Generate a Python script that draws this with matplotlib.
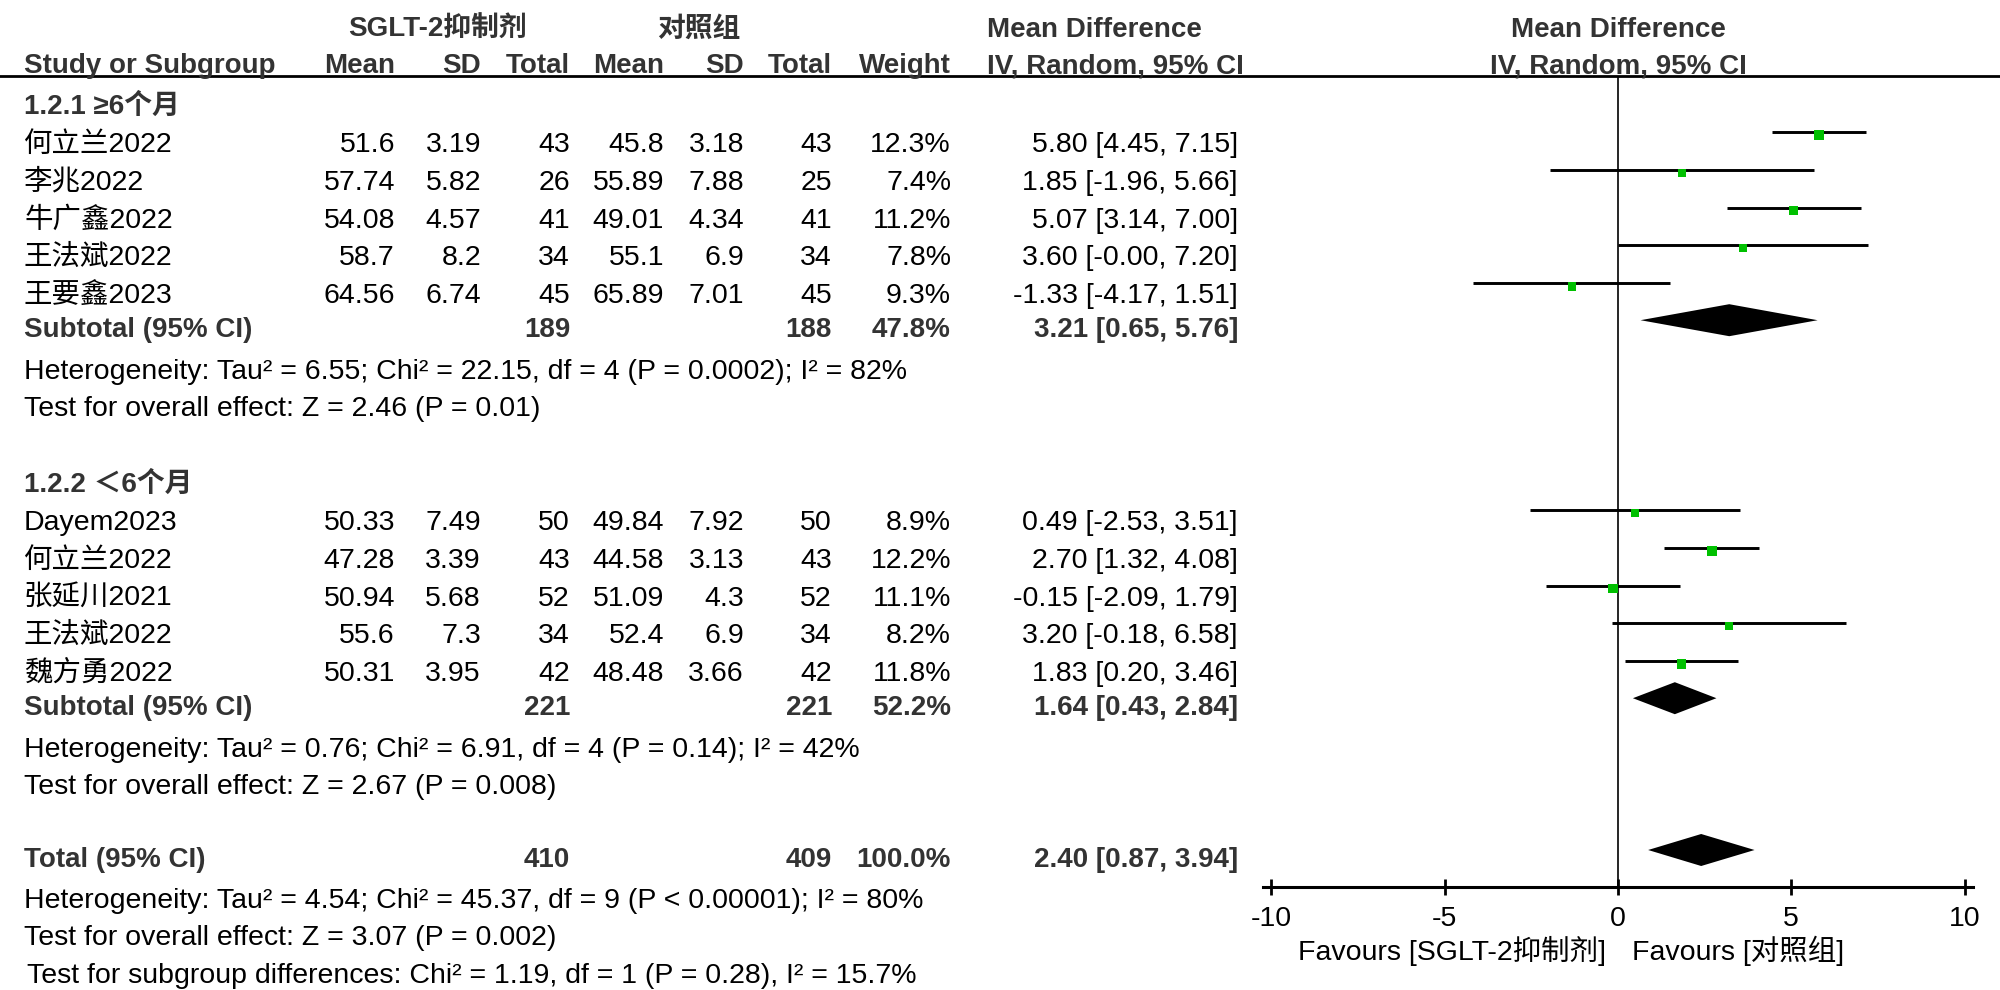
import matplotlib
matplotlib.use('Agg')
import numpy as np
import matplotlib.pyplot as plt

plt.rcParams['font.family'] = ['Liberation Sans', 'Noto Sans CJK SC', 'DejaVu Sans']

# ---- data: subgroup 1.2.1 (>=6 months)
g1_label = '1.2.1 ≥6个月'
g1_studies = ['何立兰2022', '李兆2022', '牛广鑫2022', '王法斌2022', '王要鑫2023']
g1_mean_t = [51.6, 57.74, 54.08, 58.7, 64.56]
g1_sd_t = [3.19, 5.82, 4.57, 8.2, 6.74]
g1_n_t = [43, 26, 41, 34, 45]
g1_mean_c = [45.8, 55.89, 49.01, 55.1, 65.89]
g1_sd_c = [3.18, 7.88, 4.34, 6.9, 7.01]
g1_n_c = [43, 25, 41, 34, 45]
g1_weight = [12.3, 7.4, 11.2, 7.8, 9.3]
g1_md = [5.80, 1.85, 5.07, 3.60, -1.33]
g1_lo = [4.45, -1.96, 3.14, -0.0, -4.17]
g1_hi = [7.15, 5.66, 7.00, 7.20, 1.51]
g1_sub = (189, 188, 47.8, 3.21, 0.65, 5.76)
g1_het = 'Heterogeneity: Tau² = 6.55; Chi² = 22.15, df = 4 (P = 0.0002); I² = 82%'
g1_test = 'Test for overall effect: Z = 2.46 (P = 0.01)'

# ---- data: subgroup 1.2.2 (<6 months)
g2_label = '1.2.2 ＜6个月'
g2_studies = ['Dayem2023', '何立兰2022', '张延川2021', '王法斌2022', '魏方勇2022']
g2_mean_t = [50.33, 47.28, 50.94, 55.6, 50.31]
g2_sd_t = [7.49, 3.39, 5.68, 7.3, 3.95]
g2_n_t = [50, 43, 52, 34, 42]
g2_mean_c = [49.84, 44.58, 51.09, 52.4, 48.48]
g2_sd_c = [7.92, 3.13, 4.3, 6.9, 3.66]
g2_n_c = [50, 43, 52, 34, 42]
g2_weight = [8.9, 12.2, 11.1, 8.2, 11.8]
g2_md = [0.49, 2.70, -0.15, 3.20, 1.83]
g2_lo = [-2.53, 1.32, -2.09, -0.18, 0.20]
g2_hi = [3.51, 4.08, 1.79, 6.58, 3.46]
g2_sub = (221, 221, 52.2, 1.64, 0.43, 2.84)
g2_het = 'Heterogeneity: Tau² = 0.76; Chi² = 6.91, df = 4 (P = 0.14); I² = 42%'
g2_test = 'Test for overall effect: Z = 2.67 (P = 0.008)'

# ---- overall
total_row = (410, 409, 100.0, 2.40, 0.87, 3.94)
total_het = 'Heterogeneity: Tau² = 4.54; Chi² = 45.37, df = 9 (P < 0.00001); I² = 80%'
total_test = 'Test for overall effect: Z = 3.07 (P = 0.002)'
subgroup_test = 'Test for subgroup differences: Chi² = 1.19, df = 1 (P = 0.28), I² = 15.7%'

x_ticks = [-10, -5, 0, 5, 10]
fav_left = 'Favours [SGLT-2抑制剂]'
fav_right = 'Favours [对照组]'

# ---- layout (pixels)
W, H = 2000, 990
FS = 20.5       # regular text
FS_B = 20       # bold text
BOLD_C = '#333333'
ZERO_PX = 1618
PX_UNIT = 34.655
AXIS_Y = 887
PITCH = 37.8
COLS = [395, 481, 570, 664, 744, 832, 951]  # right edges of numeric columns
CI_X = 1238
NAME_X = 24
BASE = 10  # text centre -> baseline

fig = plt.figure(figsize=(W / 100, H / 100), dpi=100)
tab = fig.add_axes([0, 0, 1, 1])
tab.set_xlim(0, W)
tab.set_ylim(H, 0)
tab.axis('off')

left_px = ZERO_PX - 10.25 * PX_UNIT
fp = fig.add_axes([left_px / W, 0, 20.5 * PX_UNIT / W, 1])
fp.set_xlim(-10.25, 10.25)
fp.set_ylim(H, 0)
fp.patch.set_visible(False)


def txt(x, yc, s, ha='left', bold=False, ax=None):
    ax = ax or tab
    ax.text(x, yc + BASE, s, ha=ha, va='baseline',
            fontsize=FS_B if bold else FS,
            fontweight='bold' if bold else 'normal',
            color=BOLD_C if bold else 'black')


# header
txt(437, 27, 'SGLT-2抑制剂', ha='center', bold=True)
txt(699, 27, '对照组', ha='center', bold=True)
txt(987, 27, 'Mean Difference', bold=True)
txt(0, 27, 'Mean Difference', ha='center', bold=True, ax=fp)
txt(NAME_X, 63, 'Study or Subgroup', bold=True)
for x, lab in zip(COLS, ['Mean', 'SD', 'Total', 'Mean', 'SD', 'Total', 'Weight']):
    txt(x, 63, lab, ha='right', bold=True)
txt(987, 63, 'IV, Random, 95% CI', bold=True)
txt(0, 63, 'IV, Random, 95% CI', ha='center', bold=True, ax=fp)
tab.axhline(76, color='black', lw=2)


def ci_str(md, lo, hi):
    return f'{md:.2f} [{lo:.2f}, {hi:.2f}]'


def diamond(y, row):
    nt, nc, w, md, lo, hi = row
    txt(COLS[2], y, str(nt), ha='right', bold=True)
    txt(COLS[5], y, str(nc), ha='right', bold=True)
    txt(COLS[6], y, f'{w:.1f}%', ha='right', bold=True)
    txt(CI_X, y, ci_str(md, lo, hi), ha='right', bold=True)
    c = y - 7
    fp.fill([lo, md, hi, md], [c, c - 16, c, c + 16], color='black', lw=0, zorder=3)


def draw_group(head_y, label, studies, mt, st, nt, mc, sc, nc, wt, md, lo, hi,
               sub, het, test):
    txt(NAME_X, head_y, label, bold=True)
    ys = head_y + 38 + PITCH * np.arange(len(studies))
    for i, y in enumerate(ys):
        txt(NAME_X, y, studies[i])
        vals = [str(mt[i]), str(st[i]), str(nt[i]), str(mc[i]), str(sc[i]),
                str(nc[i]), f'{wt[i]:.1f}%']
        for x, v in zip(COLS, vals):
            txt(x, y, v, ha='right')
        txt(CI_X, y, ci_str(md[i], lo[i], hi[i]), ha='right')
    # forest marks
    fp.hlines(ys - 10, lo, hi, color='black', lw=2.1, zorder=2)
    side = 2.85 * np.sqrt(np.array(wt)) * 0.72
    fp.scatter(md, ys - 7, s=side ** 2, marker='s', color='#00c000',
               linewidths=0, zorder=3)
    sub_y = ys[-1] + 34
    txt(NAME_X, sub_y, 'Subtotal (95% CI)', bold=True)
    diamond(sub_y, sub)
    txt(NAME_X, sub_y + 42, het)
    txt(NAME_X, sub_y + 79, test)


draw_group(104, g1_label, g1_studies, g1_mean_t, g1_sd_t, g1_n_t, g1_mean_c,
           g1_sd_c, g1_n_c, g1_weight, g1_md, g1_lo, g1_hi, g1_sub, g1_het, g1_test)
draw_group(482, g2_label, g2_studies, g2_mean_t, g2_sd_t, g2_n_t, g2_mean_c,
           g2_sd_c, g2_n_c, g2_weight, g2_md, g2_lo, g2_hi, g2_sub, g2_het, g2_test)

txt(NAME_X, 857, 'Total (95% CI)', bold=True)
diamond(857, total_row)
txt(NAME_X, 898, total_het)
txt(NAME_X, 935, total_test)
txt(NAME_X + 3, 973, subgroup_test)

# forest axis
fp.vlines(0, 76, AXIS_Y, color='black', lw=1.2, zorder=1)
for side_ in ['left', 'right', 'top']:
    fp.spines[side_].set_visible(False)
fp.spines['bottom'].set_position(('data', AXIS_Y))
fp.spines['bottom'].set_linewidth(2.2)
fp.set_yticks([])
fp.set_xticks(x_ticks)
fp.set_xticklabels([str(t) for t in x_ticks])
fp.tick_params(axis='x', direction='inout', length=12.2, width=2, labelsize=FS, pad=7.5)
fp.text(-12 / PX_UNIT, 950 + BASE, fav_left, ha='right', va='baseline', fontsize=FS)
fp.text(13.6 / PX_UNIT, 950 + BASE, fav_right, ha='left', va='baseline', fontsize=FS)

fig.savefig('out.png', dpi=100)
